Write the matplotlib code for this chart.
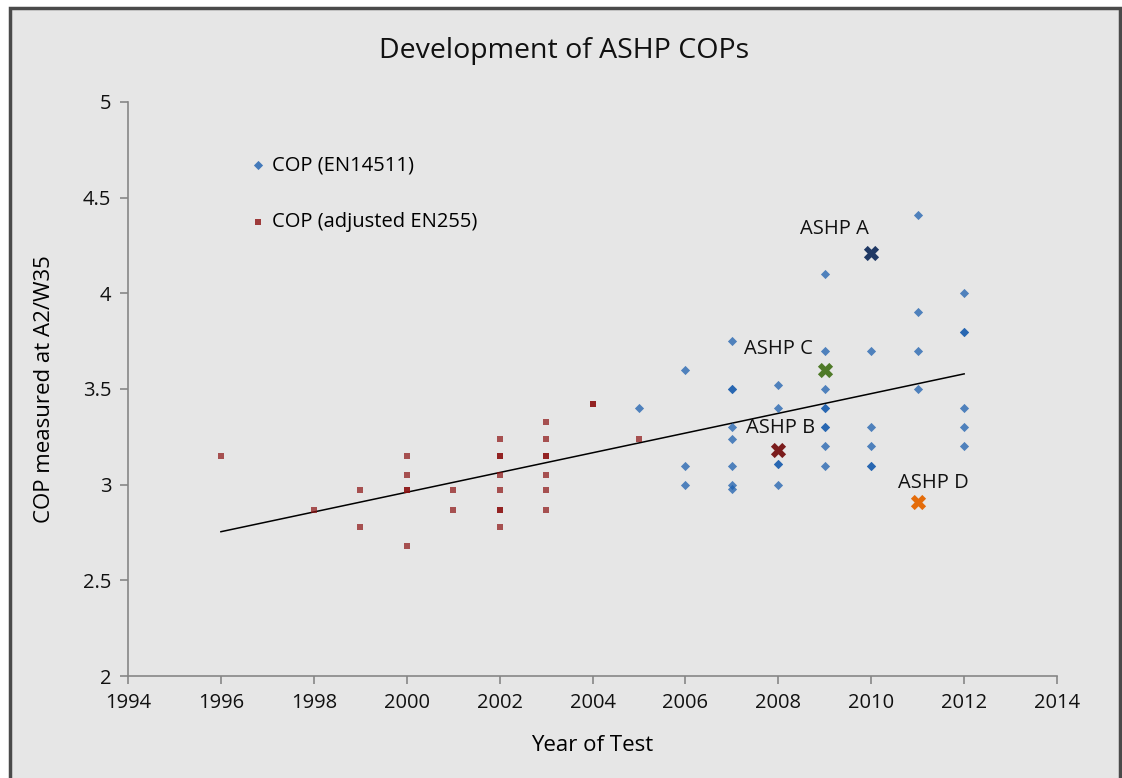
import numpy as np
import matplotlib.pyplot as plt
from matplotlib.patches import Rectangle
from matplotlib.ticker import MultipleLocator, FuncFormatter

# COP (EN14511) - blue diamonds
en14511_year = [2005, 2006, 2006, 2006,
                2007, 2007, 2007, 2007, 2007, 2007, 2007, 2007,
                2008, 2008, 2008, 2008, 2008,
                2009, 2009, 2009, 2009, 2009, 2009, 2009, 2009, 2009,
                2010, 2010, 2010, 2010, 2010,
                2011, 2011, 2011, 2011,
                2012, 2012, 2012, 2012, 2012, 2012]
en14511_cop = [3.40, 3.60, 3.10, 3.00,
               3.75, 3.50, 3.50, 3.30, 3.24, 3.10, 3.00, 2.98,
               3.52, 3.40, 3.11, 3.11, 3.00,
               4.10, 3.70, 3.50, 3.40, 3.40, 3.30, 3.30, 3.20, 3.10,
               3.70, 3.30, 3.20, 3.10, 3.10,
               4.41, 3.90, 3.70, 3.50,
               4.00, 3.80, 3.80, 3.40, 3.30, 3.20]

# COP (adjusted EN255) - red squares
en255_year = [1996, 1998, 1999, 1999,
              2000, 2000, 2000, 2000, 2000,
              2001, 2001,
              2002, 2002, 2002, 2002, 2002, 2002, 2002, 2002,
              2003, 2003, 2003, 2003, 2003, 2003, 2003,
              2004, 2004, 2005]
en255_cop = [3.15, 2.87, 2.97, 2.78,
             3.15, 3.05, 2.97, 2.97, 2.68,
             2.97, 2.87,
             3.24, 3.15, 3.15, 3.05, 2.97, 2.87, 2.87, 2.78,
             3.33, 3.24, 3.15, 3.15, 3.05, 2.97, 2.87,
             3.42, 3.42, 3.24]

# highlighted heat pumps
ashp_names = ['ASHP A', 'ASHP B', 'ASHP C', 'ASHP D']
ashp_year = [2010, 2008, 2009, 2011]
ashp_cop = [4.21, 3.18, 3.60, 2.91]
ashp_colors = ['#1f3864', '#7b1c1c', '#4f7a28', '#e46c0a']
ashp_label_offset = [(-0.8, 0.124), (0.05, 0.115), (-0.99, 0.11), (0.34, 0.098)]

bg = '#e6e6e6'
font = 'Open Sans'

fig = plt.figure(figsize=(11.22, 7.78), dpi=100, facecolor='white')
fig.patches.append(Rectangle((0.0085, -0.01), 0.99, 1.0, transform=fig.transFigure,
                             facecolor=bg, edgecolor='#4a4a4a', linewidth=2.5, zorder=-1))
ax = fig.add_axes([0.1141, 0.131, 0.828, 0.738])
ax.set_facecolor(bg)

# trend line through all test results
all_year = np.array(en14511_year + en255_year, dtype=float)
all_cop = np.array(en14511_cop + en255_cop)
slope, icpt = np.polyfit(all_year, all_cop, 1)
tx = np.array([min(en255_year), max(en14511_year)])
ax.plot(tx, slope * tx + icpt, color='black', lw=1.1, zorder=2)

ax.scatter(en14511_year, en14511_cop, marker='D', s=22, color='#1c5faf', alpha=0.75,
           linewidths=0, zorder=3, label='COP (EN14511)')
ax.scatter(en255_year, en255_cop, marker='s', s=25, color='#8c1010', alpha=0.7,
           linewidths=0, zorder=3, label='COP (adjusted EN255)')

for name, x, y, c, off in zip(ashp_names, ashp_year, ashp_cop, ashp_colors, ashp_label_offset):
    ax.scatter([x], [y], marker='X', s=120, color=c, linewidths=0, zorder=4)
    ax.text(x + off[0], y + off[1], name, ha='center', va='center', fontsize=14.5,
            family=font, color='#111111')

ax.set_xlim(1994, 2014)
ax.set_ylim(2, 5)
ax.xaxis.set_major_locator(MultipleLocator(2))
ax.yaxis.set_major_locator(MultipleLocator(0.5))
ax.yaxis.set_major_formatter(FuncFormatter(lambda v, p: '%g' % v))
for s in ['top', 'right']:
    ax.spines[s].set_visible(False)
for s in ['left', 'bottom']:
    ax.spines[s].set_color('#868686')
    ax.spines[s].set_linewidth(1.2)
ax.tick_params(direction='out', length=6, width=1.2, color='#868686',
               labelsize=14.5, labelcolor='#111111', pad=6)
for lbl in ax.get_xticklabels() + ax.get_yticklabels():
    lbl.set_family(font)

ax.set_xlabel('Year of Test', fontsize=16, family=font, labelpad=16)
ax.set_ylabel('COP measured at A2/W35', fontsize=16, family=font, labelpad=20)
fig.text(0.503, 0.934, 'Development of ASHP COPs', ha='center', va='center',
         fontsize=20.5, family=font, color='#111111')

leg = ax.legend(loc='upper left', bbox_to_anchor=(0.112, 0.938), frameon=False,
                prop={'family': font, 'size': 14.5}, labelspacing=1.8,
                handlelength=0.8, handletextpad=0.3, markerscale=1.0)
for h in leg.legend_handles:
    h.set_alpha(0.8)

fig.savefig('out.png', dpi=100, facecolor='white')
